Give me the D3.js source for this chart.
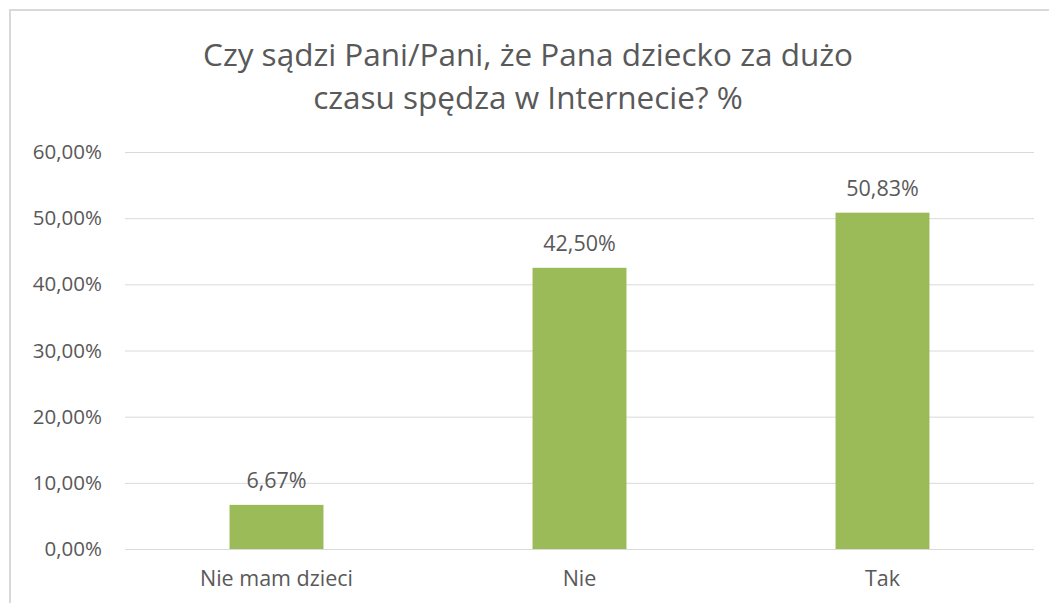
<!DOCTYPE html>
<html>
<head>
<meta charset="utf-8">
<script src="https://cdn.jsdelivr.net/npm/d3@7"></script>
<style>
  html, body { margin: 0; padding: 0; background: #fff; }
  svg { display: block; font-family: "Open Sans", "Noto Sans", sans-serif; }
</style>
</head>
<body>
<div id="chart"></div>
<script>
  var categories = ["Nie mam dzieci", "Nie", "Tak"];
  var values = [6.67, 42.50, 50.83];
  var yTicks = [0, 10, 20, 30, 40, 50, 60];
  var titleLines = ["Czy sądzi Pani/Pani, że Pana dziecko za dużo", "czasu spędza w Internecie? %"];

  var width = 1049, height = 603;
  var margin = { top: 152, right: 15, bottom: 54, left: 125 };
  var textColor = "#595959";

  var svg = d3.select("#chart").append("svg")
    .attr("width", width)
    .attr("height", height);

  // chart frame
  svg.append("rect")
    .attr("x", 10).attr("y", 10)
    .attr("width", width + 20).attr("height", height + 20)
    .attr("fill", "none")
    .attr("stroke", "#d9d9d9")
    .attr("stroke-width", 2);

  var x = d3.scaleBand()
    .domain(categories)
    .range([margin.left, width - margin.right])
    .paddingInner(0.69)
    .paddingOuter(0.345);

  var y = d3.scaleLinear()
    .domain([0, 60])
    .range([height - margin.bottom, margin.top]);

  var fmt = function (v) { return d3.format(".2f")(v).replace(".", ",") + "%"; };

  // grid
  var grid = svg.append("g")
    .attr("transform", "translate(" + margin.left + ",0)")
    .call(d3.axisLeft(y).tickValues(yTicks).tickSize(-(width - margin.left - margin.right)).tickFormat(""));
  grid.select(".domain").remove();
  grid.selectAll(".tick line").attr("stroke", "#d9d9d9").attr("stroke-width", 1);

  // y labels
  var yAxis = svg.append("g")
    .attr("transform", "translate(" + (margin.left - 23) + ",0)")
    .call(d3.axisLeft(y).tickValues(yTicks).tickSize(0).tickPadding(0).tickFormat(fmt));
  yAxis.select(".domain").remove();
  yAxis.selectAll("text")
    .attr("fill", textColor)
    .attr("font-size", 20.5)
    .attr("font-family", "'Open Sans', sans-serif");

  // x labels
  var xAxis = svg.append("g")
    .attr("transform", "translate(0," + (height - margin.bottom) + ")")
    .call(d3.axisBottom(x).tickSize(0).tickPadding(22));
  xAxis.select(".domain").remove();
  xAxis.selectAll("text")
    .attr("fill", textColor)
    .attr("font-size", 21.5)
    .attr("font-family", "'Open Sans', sans-serif");

  // bars
  svg.selectAll(".bar")
    .data(values)
    .enter().append("rect")
    .attr("class", "bar")
    .attr("x", function (d, i) { return x(categories[i]); })
    .attr("width", x.bandwidth())
    .attr("y", function (d) { return y(d); })
    .attr("height", function (d) { return y(0) - y(d); })
    .attr("fill", "#9bbb59");

  // data labels
  svg.selectAll(".lbl")
    .data(values)
    .enter().append("text")
    .attr("class", "lbl")
    .attr("x", function (d, i) { return x(categories[i]) + x.bandwidth() / 2; })
    .attr("y", function (d) { return y(d) - 17; })
    .attr("text-anchor", "middle")
    .attr("fill", textColor)
    .attr("font-size", 21.5)
    .text(fmt);

  // title
  svg.append("text")
    .attr("text-anchor", "middle")
    .attr("fill", textColor)
    .attr("font-size", 31.5)
    .selectAll("tspan")
    .data(titleLines)
    .enter().append("tspan")
    .attr("x", 528)
    .attr("y", function (d, i) { return 66 + i * 43; })
    .text(function (d) { return d; });
</script>
</body>
</html>
